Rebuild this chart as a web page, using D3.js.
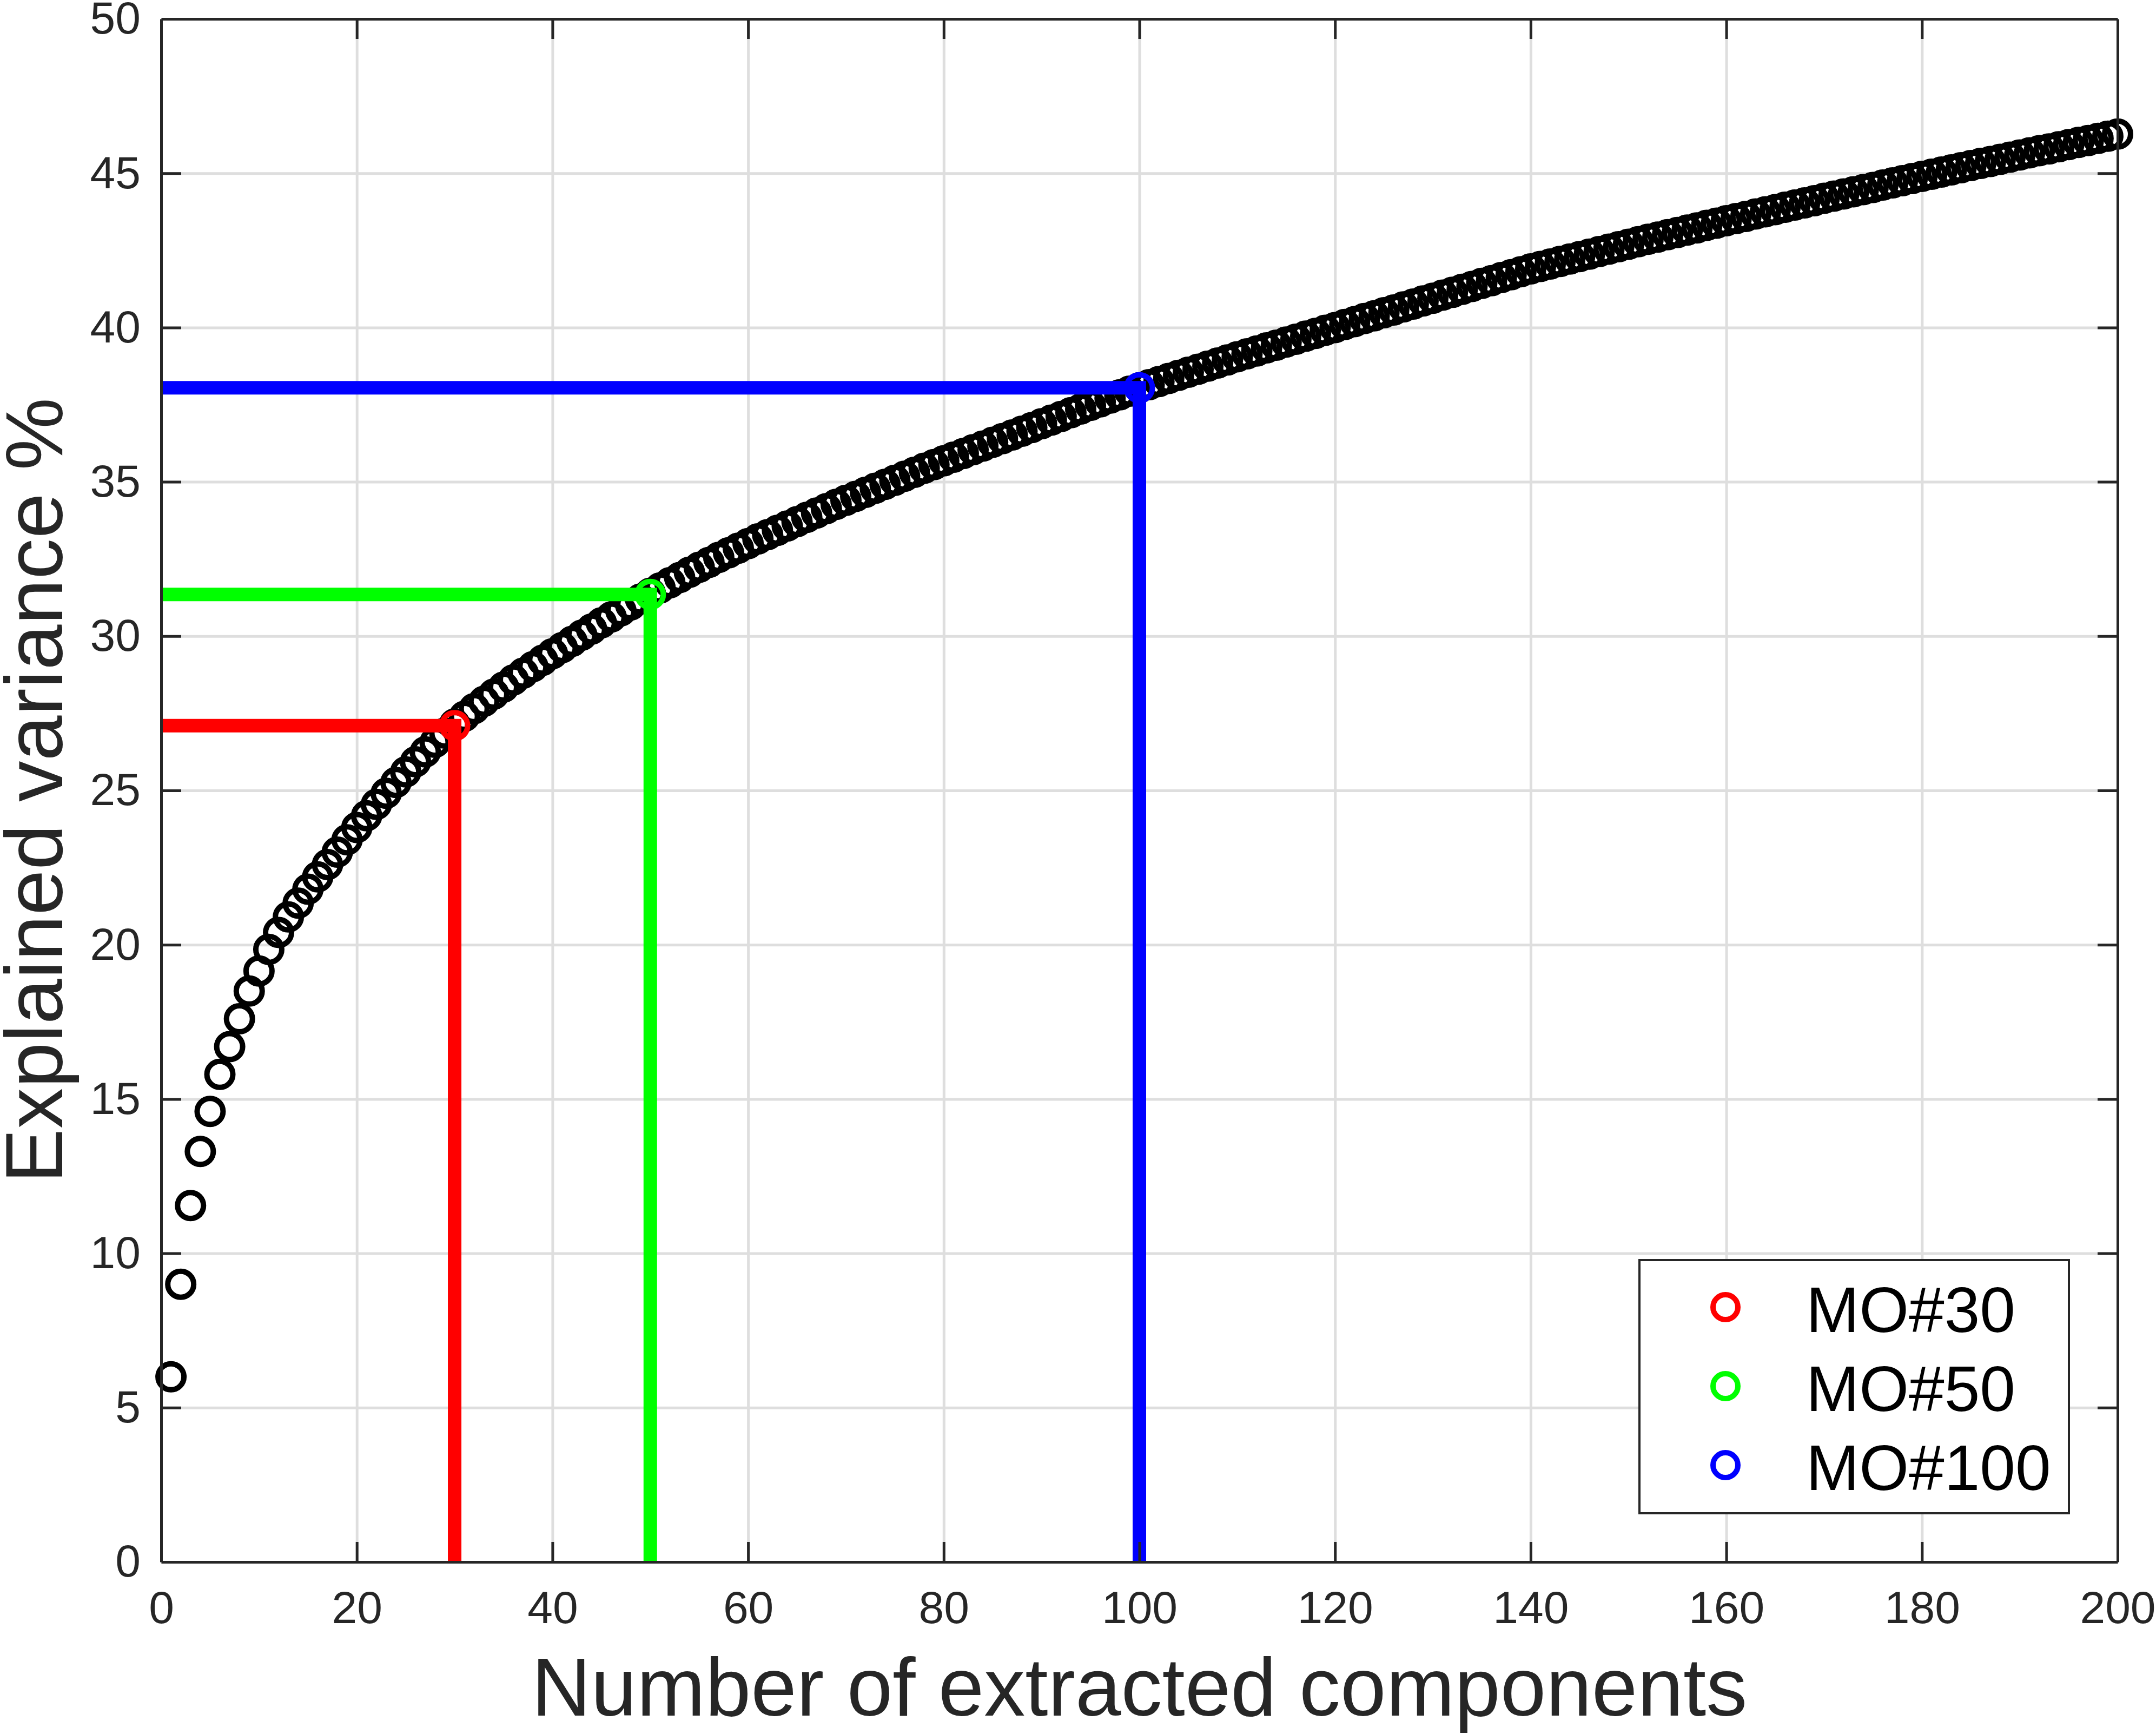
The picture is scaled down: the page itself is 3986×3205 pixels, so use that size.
<!DOCTYPE html>
<html>
<head>
<meta charset="utf-8">
<script src="https://cdn.jsdelivr.net/npm/d3@7"></script>
<style>
  body { margin: 0; background: #fff; }
  svg { display: block; }
  text { font-family: "Liberation Sans", Arial, Helvetica, sans-serif; }
</style>
</head>
<body>
<div id="chart"></div>
<script>
// explained variance (%) for 1..200 extracted components
var variance = [
  6.00, 9.00, 11.55, 13.30, 14.60, 15.80, 16.70, 17.60, 18.50, 19.15,
  19.85, 20.40, 20.90, 21.35, 21.80, 22.20, 22.60, 23.00, 23.40, 23.80,
  24.18, 24.55, 24.91, 25.26, 25.60, 25.93, 26.25, 26.56, 26.86, 27.15,
  27.40, 27.65, 27.89, 28.12, 28.35, 28.58, 28.80, 29.01, 29.22, 29.43,
  29.63, 29.83, 30.03, 30.23, 30.43, 30.62, 30.82, 31.01, 31.20, 31.39,
  31.56, 31.73, 31.90, 32.07, 32.23, 32.39, 32.55, 32.70, 32.85, 33.00,
  33.15, 33.29, 33.43, 33.57, 33.71, 33.85, 33.99, 34.13, 34.27, 34.40,
  34.53, 34.66, 34.79, 34.92, 35.05, 35.18, 35.31, 35.44, 35.56, 35.68,
  35.80, 35.92, 36.04, 36.16, 36.28, 36.40, 36.52, 36.64, 36.76, 36.88,
  37.00, 37.12, 37.24, 37.36, 37.48, 37.59, 37.71, 37.82, 37.94, 38.05,
  38.15, 38.25, 38.35, 38.45, 38.55, 38.65, 38.75, 38.85, 38.95, 39.05,
  39.15, 39.24, 39.34, 39.43, 39.53, 39.62, 39.72, 39.81, 39.91, 40.00,
  40.10, 40.19, 40.29, 40.38, 40.48, 40.57, 40.67, 40.76, 40.86, 40.95,
  41.05, 41.14, 41.24, 41.33, 41.43, 41.52, 41.62, 41.71, 41.81, 41.90,
  41.98, 42.06, 42.14, 42.22, 42.30, 42.38, 42.46, 42.54, 42.62, 42.70,
  42.78, 42.86, 42.93, 43.01, 43.08, 43.16, 43.23, 43.31, 43.38, 43.46,
  43.53, 43.60, 43.68, 43.75, 43.82, 43.90, 43.97, 44.04, 44.11, 44.19,
  44.26, 44.33, 44.40, 44.47, 44.54, 44.62, 44.69, 44.76, 44.83, 44.90,
  44.97, 45.04, 45.11, 45.18, 45.25, 45.32, 45.38, 45.45, 45.52, 45.59,
  45.66, 45.73, 45.79, 45.86, 45.93, 46.00, 46.06, 46.13, 46.20, 46.27
];

// highlighted models
var moNames = ["MO#30", "MO#50", "MO#100"];
var moComponents = [30, 50, 100];
var moVariance = [27.10, 31.35, 38.05];
var moColors = ["#ff0000", "#00ff00", "#0000ff"];

var xTicks = [0, 20, 40, 60, 80, 100, 120, 140, 160, 180, 200];
var yTicks = [0, 5, 10, 15, 20, 25, 30, 35, 40, 45, 50];

var W = 3986, H = 3205;
var margin = {top: 35, right: 71, bottom: 318, left: 298};
var width = W - margin.left - margin.right;
var height = H - margin.top - margin.bottom;

var axisColor = "#262626";

var svg = d3.select("#chart").append("svg")
    .attr("width", W)
    .attr("height", H)
  .append("g")
    .attr("transform", "translate(" + margin.left + "," + margin.top + ")");

var x = d3.scaleLinear().domain([0, 200]).range([0, width]);
var y = d3.scaleLinear().domain([0, 50]).range([height, 0]);

// grid
svg.append("g")
    .attr("class", "grid")
    .attr("transform", "translate(0," + height + ")")
    .call(d3.axisBottom(x).tickValues(xTicks).tickSize(-height).tickFormat(""))
    .call(function(g) { g.select(".domain").remove(); });
svg.append("g")
    .attr("class", "grid")
    .call(d3.axisLeft(y).tickValues(yTicks).tickSize(-width).tickFormat(""))
    .call(function(g) { g.select(".domain").remove(); });
svg.selectAll(".grid line")
    .attr("stroke", "#dedede")
    .attr("stroke-width", 5);

// data markers
var pts = variance.map(function(v, i) { return {n: i + 1, v: v}; });
svg.append("g").selectAll("circle")
    .data(pts)
  .enter().append("circle")
    .attr("cx", function(d) { return x(d.n); })
    .attr("cy", function(d) { return y(d.v); })
    .attr("r", 24)
    .attr("fill", "none")
    .attr("stroke", "#000")
    .attr("stroke-width", 10);

// guide lines for each highlighted model
var mo = moNames.map(function(name, i) {
  return {name: name, n: moComponents[i], v: moVariance[i], color: moColors[i]};
});
var guides = svg.append("g");
mo.forEach(function(d) {
  guides.append("path")
      .attr("d", "M" + x(0) + "," + y(d.v) + "H" + x(d.n) + "V" + y(0))
      .attr("fill", "none")
      .attr("stroke", d.color)
      .attr("stroke-width", 25);
});
svg.append("g").selectAll("circle")
    .data(mo)
  .enter().append("circle")
    .attr("cx", function(d) { return x(d.n); })
    .attr("cy", function(d) { return y(d.v); })
    .attr("r", 24)
    .attr("fill", "none")
    .attr("stroke", function(d) { return d.color; })
    .attr("stroke-width", 10);

// axes (box with inward ticks)
var tickLen = 37;
var axB = svg.append("g")
    .attr("transform", "translate(0," + height + ")")
    .call(d3.axisBottom(x).tickValues(xTicks).tickSizeInner(-tickLen).tickSizeOuter(0).tickPadding(53));
var axT = svg.append("g")
    .call(d3.axisTop(x).tickValues(xTicks).tickSizeInner(-tickLen).tickSizeOuter(0).tickFormat(""));
var axL = svg.append("g")
    .call(d3.axisLeft(y).tickValues(yTicks).tickSizeInner(-tickLen).tickSizeOuter(0).tickPadding(38));
var axR = svg.append("g")
    .attr("transform", "translate(" + width + ",0)")
    .call(d3.axisRight(y).tickValues(yTicks).tickSizeInner(-tickLen).tickSizeOuter(0).tickFormat(""));

[axB, axT, axL, axR].forEach(function(a) {
  a.select(".domain").attr("stroke", axisColor).attr("stroke-width", 5);
  a.selectAll(".tick line").attr("stroke", axisColor).attr("stroke-width", 5);
  a.selectAll(".tick text")
      .attr("fill", axisColor)
      .attr("font-size", 84)
      .attr("font-family", "Liberation Sans, Arial, sans-serif");
});
// drop the ticks that sit on the box corners
[axB, axT].forEach(function(a) {
  a.selectAll(".tick line").filter(function(d) { return d === 0 || d === 200; }).remove();
});
[axL, axR].forEach(function(a) {
  a.selectAll(".tick line").filter(function(d) { return d === 0 || d === 50; }).remove();
});

// axis titles
svg.append("text")
    .attr("x", width / 2)
    .attr("y", 3171 - margin.top)
    .attr("text-anchor", "middle")
    .attr("font-size", 152)
    .attr("fill", axisColor)
    .text("Number of extracted components");

svg.append("text")
    .attr("transform", "translate(" + (115 - margin.left) + "," + (height / 2) + ") rotate(-90)")
    .attr("text-anchor", "middle")
    .attr("font-size", 151)
    .attr("fill", axisColor)
    .text("Explained variance %");

// legend
var lg = svg.append("g")
    .attr("transform", "translate(" + (3031 - margin.left) + "," + (2329 - margin.top) + ")");
lg.append("rect")
    .attr("width", 794)
    .attr("height", 468)
    .attr("fill", "#fff")
    .attr("stroke", axisColor)
    .attr("stroke-width", 4);
var rows = lg.selectAll(".row")
    .data(mo)
  .enter().append("g")
    .attr("class", "row")
    .attr("transform", function(d, i) { return "translate(0," + (87 + i * 146) + ")"; });
rows.append("circle")
    .attr("cx", 159)
    .attr("r", 23)
    .attr("fill", "none")
    .attr("stroke", function(d) { return d.color; })
    .attr("stroke-width", 10);
rows.append("text")
    .attr("x", 308)
    .attr("y", 46)
    .attr("font-size", 118)
    .attr("fill", "#000")
    .text(function(d) { return d.name; });
</script>
</body>
</html>
